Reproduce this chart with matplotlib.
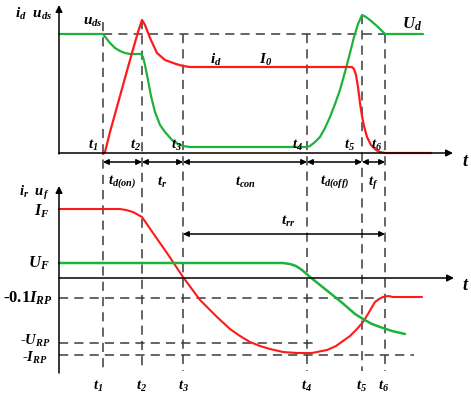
import matplotlib.pyplot as plt
import numpy as np

plt.rcParams['mathtext.fontset'] = 'custom'
plt.rcParams['mathtext.rm'] = 'Liberation Serif:bold:italic'
plt.rcParams['mathtext.it'] = 'Liberation Serif:bold:italic'
plt.rcParams['mathtext.bf'] = 'Liberation Serif:bold:italic'
plt.rcParams['font.family'] = 'Liberation Serif'

# switching instants (x positions on the common time axis)
t_marks = [103, 142, 183, 307, 362, 385]
t_names = ['$t_1$', '$t_2$', '$t_3$', '$t_4$', '$t_5$', '$t_6$']

# top panel: u_ds (green) and i_d (red), y
uds_t = [59, 103, 106, 110, 115, 120, 125, 130, 141, 143, 145, 148, 151, 155, 160,
         165, 172, 178, 183, 190, 307, 310, 315, 320, 325, 330, 335, 340, 345, 350,
         354, 358, 362, 366, 370, 378, 385, 423]
uds_v = [34, 34, 38, 43, 48, 51, 53, 54, 54, 57, 65, 80, 96, 112, 125,
         132, 140, 144, 146, 147, 147, 146, 142, 137, 128, 117, 104, 90, 72, 53,
         37, 24, 15, 17, 20, 27, 34, 34]
id_t = [103, 105, 110, 120, 130, 138, 142, 145, 150, 157, 165, 176, 183, 190, 352,
        354, 356, 358, 360, 362, 364, 367, 371, 376, 380, 385, 431]
id_v = [154, 152, 132, 96, 60, 32, 20, 25, 38, 53, 60, 64, 66, 67, 67,
        69, 75, 87, 103, 116, 126, 137, 145, 150, 152, 153, 153]

# bottom panel: i_r (red) and u_f (green)
ir_t = [59, 120, 126, 133, 142, 153, 167, 183, 200, 217, 230, 240, 250, 260, 270,
        283, 297, 312, 327, 336, 343, 350, 357, 363, 368, 372, 375, 379, 383, 388,
        393, 422]
ir_v = [209, 209, 210, 212, 217, 233, 253, 277, 300, 317, 329, 336, 342, 346, 349,
        352, 353, 353, 350, 346, 341, 336, 329, 322, 314, 307, 302, 299, 297, 296,
        297, 297]
uf_t = [59, 283, 290, 296, 302, 310, 320, 330, 340, 347, 355, 363, 372, 380, 392, 405]
uf_v = [263, 263, 264, 266, 270, 277, 285, 293, 301, 307, 314, 319, 324, 327, 331, 334]

# dimension labels between instants
spans = ['$t_{d(on)}$', '$t_r$', '$t_{con}$', '$t_{d(off)}$', '$t_f$']

red = '#ff1a1a'
green = '#1db33a'
dash = '#3a3a3a'

fig = plt.figure(figsize=(4.71, 3.94), dpi=100)
ax = fig.add_axes([0, 0, 1, 1])
ax.set_xlim(0, 471)
ax.set_ylim(394, 0)
ax.axis('off')

dkw = dict(color=dash, lw=1.1, dashes=(6, 4))

# vertical dashed lines
v_tops = [22, 20, 34, 34, 15, 34]
for x, top in zip(t_marks, v_tops):
    ax.plot([x, x], [top, 371], **dkw)

# horizontal dashed lines
ax.plot([103, 385], [34, 34], **dkw)
ax.plot([59, 375], [298, 298], **dkw)
ax.plot([59, 313], [343, 343], **dkw)
ax.plot([59, 414], [355, 355], **dkw)

# axes with arrows
akw = dict(arrowstyle='-|>', color='black', lw=1.1, mutation_scale=10, shrinkA=0, shrinkB=0)
ax.annotate('', xy=(59, 5), xytext=(59, 154), arrowprops=akw)
ax.annotate('', xy=(453, 153), xytext=(59, 153), arrowprops=akw)
ax.annotate('', xy=(59, 186), xytext=(59, 373), arrowprops=akw)
ax.annotate('', xy=(454, 278), xytext=(59, 278), arrowprops=akw)

# curves
ax.plot(uds_t, uds_v, color=green, lw=1.6, solid_capstyle='round', solid_joinstyle='round')
ax.plot(id_t, id_v, color=red, lw=1.6, solid_capstyle='round', solid_joinstyle='round')
ax.plot(ir_t, ir_v, color=red, lw=1.5, solid_capstyle='round', solid_joinstyle='round')
ax.plot(uf_t, uf_v, color=green, lw=1.8, solid_capstyle='round', solid_joinstyle='round')

# dimension arrows
bkw = dict(arrowstyle='<|-|>', color='black', lw=1.1, mutation_scale=8, shrinkA=0, shrinkB=0)
for i in range(5):
    ax.annotate('', xy=(t_marks[i + 1], 162), xytext=(t_marks[i], 162), arrowprops=bkw)
    ax.text((t_marks[i] + t_marks[i + 1]) / 2, 182, spans[i], fontsize=10.5,
            ha='center', va='center')
ax.annotate('', xy=(t_marks[5], 234), xytext=(t_marks[2], 234), arrowprops=bkw)
ax.text(288, 221, '$t_{rr}$', fontsize=11, ha='center', va='center')

# time labels
top_lx = [93, 135, 176, 297, 349, 377]
for x, s in zip(top_lx, t_names):
    ax.text(x, 145, s, fontsize=10.5, ha='center', va='center')
bot_lx = [98, 141, 183, 306, 361, 384]
for x, s in zip(bot_lx, t_names):
    ax.text(x, 386, s, fontsize=10.5, ha='center', va='center')
ax.text(466, 161, '$t$', fontsize=13, ha='center', va='center')
ax.text(466, 285, '$t$', fontsize=13, ha='center', va='center')

# curve and axis labels
ax.text(34, 14, r'$i_d\ \ u_{ds}$', fontsize=11, ha='center', va='center')
ax.text(93, 22, r'$u_{ds}$', fontsize=11, ha='center', va='center')
ax.text(216, 60, r'$i_d$', fontsize=11, ha='center', va='center')
ax.text(266, 60, r'$I_0$', fontsize=11, ha='center', va='center')
ax.text(412, 24, r'$U_d$', fontsize=12, ha='center', va='center')
ax.text(34, 193, r'$i_r\ \ u_f$', fontsize=10.5, ha='center', va='center')
ax.text(50, 211, r'$I_F$', fontsize=11.5, ha='right', va='center')
ax.text(50, 263, r'$U_F$', fontsize=12, ha='right', va='center')
ax.text(53, 298, r'-0.1$I_{RP}$', fontsize=12, fontweight='bold', ha='right', va='center')
ax.text(51, 341, r'-$U_{RP}$', fontsize=10.5, fontweight='bold', ha='right', va='center')
ax.text(48, 358, r'-$I_{RP}$', fontsize=10.5, fontweight='bold', ha='right', va='center')

fig.savefig('out.png', dpi=100)
